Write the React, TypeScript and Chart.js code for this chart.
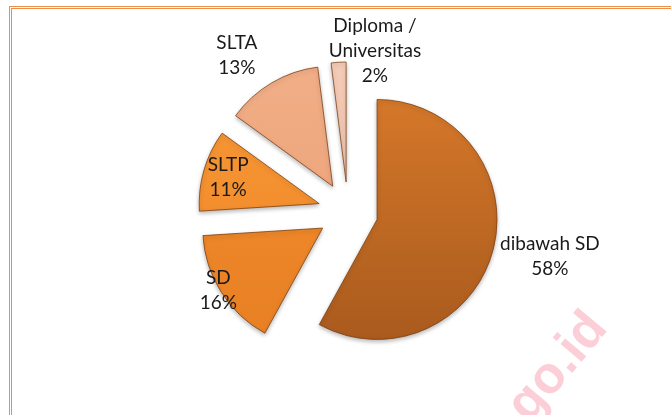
import React, { useEffect, useRef } from 'react';
import { Chart, registerables } from 'chart.js';

Chart.register(...registerables);

const categories = ['dibawah SD', 'SD', 'SLTP', 'SLTA', 'Diploma / Universitas'];
const values = [58, 16, 11, 13, 2];

const topColors = ['#DA7B2B', '#F5902F', '#F89A38', '#F2B089', '#F5CDB9'];
const bottomColors = ['#A4571C', '#E67D22', '#EE8424', '#EA9D72', '#EDB9A2'];
const labelPlace = [
  { f: 1.47, dx: 2, dy: -7 },
  { f: 1.01, dx: -2, dy: -3 },
  { f: 0.79, dx: 0, dy: 0 },
  { f: 1.34, dx: -14, dy: 8 },
  { f: 1.08, dx: 37, dy: -2 },
];
const EXPLODE = 30;
const watermark = 'go.id';

const explodePlugin = {
  id: 'explodePie',
  beforeDatasetDraw(chart: any) {
    const ctx = chart.ctx;
    const meta = chart.getDatasetMeta(0);
    meta.data.forEach((el: any) => {
      const { startAngle, endAngle } = el.getProps(['startAngle', 'endAngle'], true);
      const mid = (startAngle + endAngle) / 2;
      ctx.save();
      ctx.translate(Math.cos(mid) * EXPLODE, Math.sin(mid) * EXPLODE);
      ctx.shadowColor = 'rgba(0,0,0,0.28)';
      ctx.shadowBlur = 4;
      ctx.shadowOffsetY = 2;
      el.draw(ctx);
      ctx.restore();
    });
    return false;
  },
  afterDatasetsDraw(chart: any) {
    const ctx = chart.ctx;
    const meta = chart.getDatasetMeta(0);
    const total = values.reduce((a, b) => a + b, 0);
    ctx.save();
    ctx.fillStyle = '#1a1a1a';
    ctx.font = '19px Lato';
    ctx.textAlign = 'center';
    ctx.textBaseline = 'middle';
    const lh = 25;
    meta.data.forEach((el: any, i: number) => {
      const { x, y, startAngle, endAngle, outerRadius } = el.getProps(
        ['x', 'y', 'startAngle', 'endAngle', 'outerRadius'],
        true
      );
      const mid = (startAngle + endAngle) / 2;
      const p = labelPlace[i];
      const d = EXPLODE + p.f * outerRadius;
      const cx = x + Math.cos(mid) * d + p.dx;
      const cy = y + Math.sin(mid) * d + p.dy;
      const cat = categories[i];
      const lines = cat.includes(' / ')
        ? [cat.split(' / ')[0] + ' /', cat.split(' / ')[1]]
        : [cat];
      lines.push(Math.round((values[i] / total) * 100) + '%');
      const y0 = cy - ((lines.length - 1) * lh) / 2;
      lines.forEach((t, k) => ctx.fillText(t, cx, y0 + k * lh));
    });
    ctx.restore();
  },
  afterDraw(chart: any) {
    const ctx = chart.ctx;
    ctx.save();
    ctx.translate(609, 329);
    ctx.rotate((-50 * Math.PI) / 180);
    ctx.fillStyle = 'rgba(250,175,190,0.6)';
    ctx.font = 'bold 52px "Liberation Sans"';
    ctx.textAlign = 'right';
    ctx.textBaseline = 'alphabetic';
    ctx.fillText(watermark, 0, 0);
    ctx.restore();
  },
};

export default function App() {
  const ref = useRef<HTMLCanvasElement | null>(null);
  useEffect(() => {
    if (!ref.current) return;
    const chart = new Chart(ref.current, {
      type: 'pie',
      data: {
        labels: categories,
        datasets: [
          {
            data: values,
            backgroundColor: (c: any) => {
              const i = c.dataIndex;
              const chart = c.chart;
              const area = chart.chartArea;
              if (!area) return topColors[i];
              const cy = (area.top + area.bottom) / 2;
              const r = Math.min(area.width, area.height) / 2;
              const g = chart.ctx.createLinearGradient(0, cy - r - 30, 0, cy + r + 30);
              g.addColorStop(0, topColors[i]);
              g.addColorStop(1, bottomColors[i]);
              return g;
            },
            borderColor: 'rgba(120,60,15,0.75)',
            borderWidth: 1,
            offset: 0,
          },
        ],
      },
      options: {
        responsive: true,
        maintainAspectRatio: false,
        animation: false,
        layout: { padding: { left: 148, right: 123, top: 91.5, bottom: 82.5 } },
        plugins: {
          legend: { display: false },
          tooltip: { enabled: false },
        },
      },
      plugins: [explodePlugin],
    });
    return () => chart.destroy();
  }, []);

  return (
    <div style={{ position: 'fixed', left: 0, top: 0, width: 671, height: 415, background: '#fff' }}>
      <div
        style={{
          position: 'absolute',
          left: 9,
          top: 6,
          width: 700,
          height: 450,
          borderLeft: '3px double #EC8E4C',
          borderTop: '3px double #EC8E4C',
          boxSizing: 'border-box',
        }}
      />
      <canvas ref={ref} style={{ position: 'absolute', left: 0, top: 0, width: 671, height: 415 }} />
    </div>
  );
}
